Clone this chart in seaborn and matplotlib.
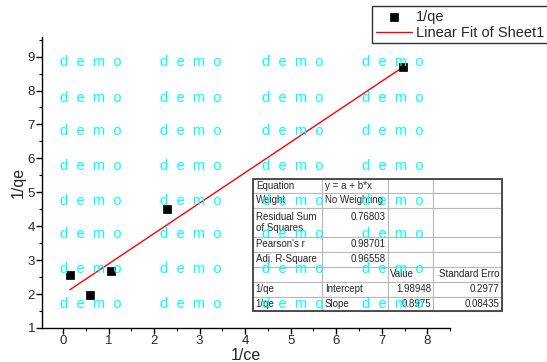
import numpy as np
import pandas as pd
import matplotlib
matplotlib.use("Agg")
import matplotlib.pyplot as plt
import seaborn as sns

# data
ce_inv = [0.15, 0.59, 1.05, 2.29, 7.47]
qe_inv = [2.56, 1.97, 2.68, 4.51, 8.70]

# fit parameters, as printed in the table
intercept = 1.98948
slope = 0.8975

table_rows = [
    ["Equation", "y = a + b*x", "", ""],
    ["Weight", "No Weighting", "", ""],
    ["Residual Sum\nof Squares", "0.76803\n", "", ""],
    ["Pearson's r", "0.98701", "", ""],
    ["Adj. R-Square", "0.96558", "", ""],
    ["", "", "Value", "Standard Erro"],
    ["1/qe", "Intercept", "1.98948", "0.2977"],
    ["1/qe", "Slope", "0.8975", "0.08435"],
]

sns.set_style("ticks")
plt.rcParams["font.family"] = ["Liberation Sans", "DejaVu Sans"]

fig = plt.figure(figsize=(5.47, 3.62), dpi=100)
ax = fig.add_axes([0.0768, 0.094, 0.746, 0.804])

df = pd.DataFrame({"x": ce_inv, "y": qe_inv})
fit_x = [min(ce_inv), max(ce_inv)]
fit = pd.DataFrame({"x": fit_x, "y": [intercept + slope * v for v in fit_x]})

sns.lineplot(data=fit, x="x", y="y", ax=ax, color="red", linewidth=1,
             label="Linear Fit of Sheet1 1/qe", zorder=2)
sns.scatterplot(data=df, x="x", y="y", ax=ax, marker="s", s=40, color="black",
                edgecolor="black", label="1/qe", zorder=3)

ax.set_xlim(-0.46, 8.5)
ax.set_ylim(1, 9.58)
ax.set_xticks(range(0, 9))
ax.set_yticks(range(1, 10))
ax.set_xticks(np.arange(0, 8.6, 0.5), minor=True)
ax.set_yticks(np.arange(1, 9.6, 0.5), minor=True)
ax.tick_params(axis="both", which="major", length=4, width=1, labelsize=9.5, pad=1, color="black")
ax.tick_params(axis="both", which="minor", length=2, width=0.8, color="black")
ax.set_xlabel("1/ce", fontsize=11.5, labelpad=1)
ax.set_ylabel("1/qe", fontsize=11.5, labelpad=1)
for side in ["top", "right"]:
    ax.spines[side].set_visible(False)
for side in ["left", "bottom"]:
    ax.spines[side].set_color("black")
    ax.spines[side].set_linewidth(1)

# legend (runs off the right edge like the original)
handles, labels = ax.get_legend_handles_labels()
leg = fig.legend(handles[::-1], labels[::-1], loc="upper left",
                 bbox_to_anchor=(372 / 547, 1 - 6 / 362), fontsize=10.5,
                 frameon=True, fancybox=False, borderpad=0.25, handlelength=2.5,
                 handletextpad=0.25, labelspacing=0.15, borderaxespad=0)
leg.get_frame().set_edgecolor("black")
leg.get_frame().set_linewidth(1)
ax.get_legend().remove()

# fit summary table, placed in axes fractions from pixel positions
ax_w, ax_h = 408, 291
col_px = [69, 66, 45, 69]
row_px = [14, 15, 29, 15, 15, 15, 15, 14]
tx0 = (253 - 42) / ax_w
ty0 = (328 - 311) / ax_h
tw = sum(col_px) / ax_w
th = sum(row_px) / ax_h
tbl = ax.table(cellText=table_rows, cellLoc="left", bbox=[tx0, ty0, tw, th], zorder=4)
tbl.auto_set_font_size(False)
tbl.set_fontsize(7)
for (r, c), cell in tbl.get_celld().items():
    cell.set_edgecolor("#b8b8b8")
    cell.set_linewidth(0.8)
    cell.set_facecolor("white")
    cell.set_width(col_px[c] / ax_w)
    cell.set_height(row_px[r] / ax_h)
    cell.PAD = 0.04
    right = (c >= 1 and r in (2, 3, 4)) or (c >= 2 and r >= 6) or (r == 5 and c == 3)
    if right:
        cell.get_text().set_ha("right")
ax.add_patch(plt.Rectangle((tx0, ty0), tw, th, transform=ax.transAxes, fill=False,
                           edgecolor="#404040", linewidth=1.3, zorder=5, clip_on=False))

# demo watermark
wm_cols = [60, 160, 262, 362]
wm_rows = [62, 98, 131, 166, 201, 234, 269, 304]
for wy in wm_rows:
    for wx in wm_cols:
        fig.text(wx / 547, 1 - wy / 362, "d  e  m  o", color="cyan", fontsize=10.5,
                 ha="left", va="center", zorder=10)

fig.savefig("out.png", dpi=100)
